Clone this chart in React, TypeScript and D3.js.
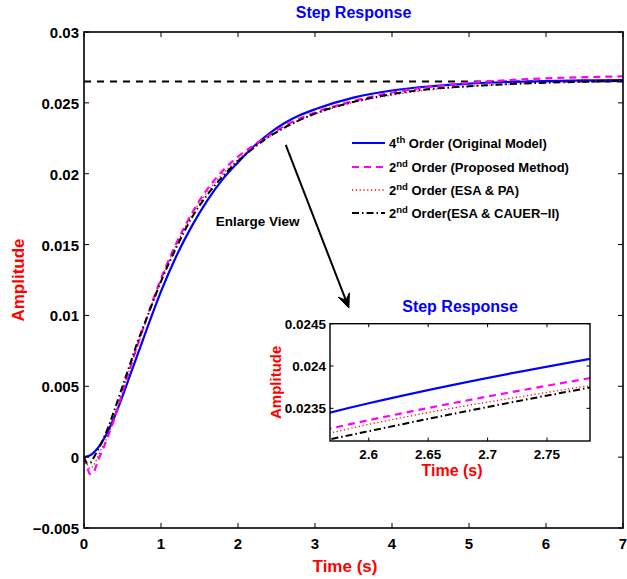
import React from "react";
import * as d3 from "d3";

// ---------- DATA ----------
const xTicks = [0, 1, 2, 3, 4, 5, 6, 7];
const xTickLabels = ["0", "1", "2", "3", "4", "5", "6", "7"];
const yTicks = [-0.005, 0, 0.005, 0.01, 0.015, 0.02, 0.025, 0.03];
const yTickLabels = ["\u22120.005", "0", "0.005", "0.01", "0.015", "0.02", "0.025", "0.03"];

const insetXTicks = [2.6, 2.65, 2.7, 2.75];
const insetXTickLabels = ["2.6", "2.65", "2.7", "2.75"];
const insetYTicks = [0.0235, 0.024, 0.0245];
const insetYTickLabels = ["0.0235", "0.024", "0.0245"];

const referenceLevel = 0.0265;

// 4th order (original model)
const tBlue = [0, 0.1, 0.2, 0.3, 0.4, 0.5, 0.6, 0.7, 0.8, 1.0, 1.2, 1.4, 1.6, 1.8, 2.0, 2.2, 2.4, 2.6, 2.8, 3.0, 3.5, 4.0, 4.5, 5.0, 5.5, 6.0, 6.5, 7.0];
const yBlue = [0, 0.0002, 0.0008, 0.0017, 0.0029, 0.0043, 0.0058, 0.0073, 0.0088, 0.0117, 0.0142, 0.0163, 0.0181, 0.0196, 0.0208, 0.0219, 0.02281, 0.02356, 0.02412, 0.02455, 0.02537, 0.02587, 0.02617, 0.02636, 0.02647, 0.02654, 0.02658, 0.0266];

// 2nd order (proposed method)
const tMagenta = [0, 0.04, 0.08, 0.12, 0.16, 0.2, 0.25, 0.3, 0.4, 0.5, 0.6, 0.7, 0.8, 1.0, 1.2, 1.4, 1.6, 1.8, 2.0, 2.2, 2.4, 2.6, 2.8, 3.0, 3.5, 4.0, 4.5, 5.0, 5.5, 6.0, 6.5, 7.0];
const yMagenta = [0, -0.0007, -0.0012, -0.0011, -0.0006, 0.0, 0.0006, 0.0013, 0.0028, 0.0046, 0.0063, 0.008, 0.0096, 0.0126, 0.0151, 0.0172, 0.0189, 0.0202, 0.0212, 0.022, 0.0227, 0.02336, 0.02389, 0.02432, 0.02513, 0.02573, 0.02613, 0.02641, 0.0266, 0.02673, 0.02681, 0.02687];

// 2nd order (ESA & PA)
const tRed = [0, 0.04, 0.08, 0.12, 0.16, 0.2, 0.3, 0.4, 0.5, 0.6, 0.7, 0.8, 1.0, 1.2, 1.4, 1.6, 1.8, 2.0, 2.2, 2.4, 2.6, 2.8, 3.0, 3.5, 4.0, 4.5, 5.0, 5.5, 6.0, 6.5, 7.0];
const yRed = [0, -0.0005, -0.0008, -0.0006, -0.0002, 0.0003, 0.0014, 0.0029, 0.0046, 0.0063, 0.0079, 0.0095, 0.0125, 0.015, 0.0171, 0.0187, 0.02, 0.021, 0.0219, 0.0226, 0.02331, 0.0238, 0.02421, 0.02502, 0.02555, 0.02592, 0.02616, 0.02632, 0.02643, 0.0265, 0.02655];

// 2nd order (ESA & CAUER-II)
const tBlack = [0, 0.04, 0.08, 0.12, 0.16, 0.2, 0.3, 0.4, 0.5, 0.6, 0.7, 0.8, 1.0, 1.2, 1.4, 1.6, 1.8, 2.0, 2.2, 2.4, 2.6, 2.8, 3.0, 3.5, 4.0, 4.5, 5.0, 5.5, 6.0, 6.5, 7.0];
const yBlack = [0, -0.0004, -0.0004, -0.0001, 0.0003, 0.0007, 0.0019, 0.0034, 0.005, 0.0066, 0.0082, 0.0096, 0.0124, 0.0148, 0.0169, 0.0185, 0.0198, 0.0209, 0.0218, 0.0226, 0.02323, 0.02378, 0.02424, 0.02507, 0.02562, 0.02598, 0.02617, 0.02632, 0.02642, 0.02649, 0.02655];

const legendNum = ["4", "2", "2", "2"];
const legendSup = ["th", "nd", "nd", "nd"];
const legendRest = [" Order (Original Model)", " Order (Proposed Method)", " Order (ESA & PA)", " Order(ESA & CAUER\u2212II)"];

// arrow endpoints (data coords) and annotation
const arrowFrom = [2.62, 0.02203];
const arrowTo = [3.44, 0.01052];
const annotation = "Enlarge View";
const annotationPos = [1.71, 0.01631];

// ---------- STYLE ----------
const FONT = "'Liberation Sans', Arial, Helvetica, sans-serif";
const styles = [
  { color: "#0000ff", width: 2.2, dash: "none" },
  { color: "#ff00ff", width: 2.2, dash: "7,5" },
  { color: "#ff0000", width: 1.3, dash: "1.2,2.6" },
  { color: "#000000", width: 2.0, dash: "7,3,1.5,3" },
];

export default function App() {
  const W = 627, H = 579;
  const m = { left: 84, right: 623, top: 32, bottom: 528 };
  const x = d3.scaleLinear().domain([0, 7]).range([m.left, m.right]);
  const y = d3.scaleLinear().domain([-0.005, 0.03]).range([m.bottom, m.top]);

  const ins = { left: 330, right: 590, top: 323.7, bottom: 441 };
  const xi = d3.scaleLinear().domain([2.5674, 2.7862]).range([ins.left, ins.right]);
  const yi = d3.scaleLinear().domain([0.023114, 0.0245]).range([ins.bottom, ins.top]);

  const series = [
    { t: tBlue, v: yBlue },
    { t: tMagenta, v: yMagenta },
    { t: tRed, v: yRed },
    { t: tBlack, v: yBlack },
  ];

  const mkLine = (sx: any, sy: any) =>
    d3.line<[number, number]>().x((d) => sx(d[0])).y((d) => sy(d[1])).curve(d3.curveMonotoneX);
  const mainLine = mkLine(x, y);
  const insetLine = mkLine(xi, yi);
  const pts = (s: { t: number[]; v: number[] }) => s.t.map((t, i) => [t, s.v[i]] as [number, number]);

  const tick = 5;
  const itick = 3.5;

  // arrow
  const ax1 = x(arrowFrom[0]), ay1 = y(arrowFrom[1]);
  const ax2 = x(arrowTo[0]), ay2 = y(arrowTo[1]);
  const ang = Math.atan2(ay2 - ay1, ax2 - ax1);
  const hl = 14, hw = 6;
  const bx = ax2 - hl * Math.cos(ang), by = ay2 - hl * Math.sin(ang);
  const nx = -Math.sin(ang), ny = Math.cos(ang);
  const innerX = ax2 - hl * 0.6 * Math.cos(ang), innerY = ay2 - hl * 0.6 * Math.sin(ang);
  const headPath = `M${ax2},${ay2} L${bx + nx * hw},${by + ny * hw} L${innerX},${innerY} L${bx - nx * hw},${by - ny * hw} Z`;

  const legX1 = 352, legX2 = 385, legTextX = 389;
  const legRows = [143, 167, 190, 213];

  return (
    <svg width={W} height={H} style={{ position: "absolute", left: 0, top: 0, display: "block", background: "#fff" }} fontFamily={FONT} fontWeight="bold">
      <defs>
        <clipPath id="mainClip">
          <rect x={m.left} y={m.top} width={m.right - m.left} height={m.bottom - m.top} />
        </clipPath>
        <clipPath id="insClip">
          <rect x={ins.left} y={ins.top} width={ins.right - ins.left} height={ins.bottom - ins.top} />
        </clipPath>
      </defs>
      <rect x={0} y={0} width={W} height={H} fill="#fff" />

      {/* main title */}
      <text x={(m.left + m.right) / 2} y={18} textAnchor="middle" fill="#0000ff" fontSize={16}>Step Response</text>

      {/* main curves */}
      <g clipPath="url(#mainClip)">
        <line x1={x(0)} x2={x(7)} y1={y(referenceLevel)} y2={y(referenceLevel)} stroke="#000" strokeWidth={2} strokeDasharray="7,6" />
        {series.map((s, i) => (
          <path key={i} d={mainLine(pts(s)) || ""} fill="none" stroke={styles[i].color} strokeWidth={styles[i].width} strokeDasharray={styles[i].dash} />
        ))}
      </g>

      {/* main frame and ticks */}
      <rect x={m.left} y={m.top} width={m.right - m.left} height={m.bottom - m.top} fill="none" stroke="#000" strokeWidth={1.6} />
      {xTicks.map((t, i) => (
        <g key={"xt" + i}>
          <line x1={x(t)} x2={x(t)} y1={m.bottom} y2={m.bottom - tick} stroke="#000" strokeWidth={1} />
          <line x1={x(t)} x2={x(t)} y1={m.top} y2={m.top + tick} stroke="#000" strokeWidth={1} />
          <text x={x(t)} y={m.bottom + 21} textAnchor="middle" fontSize={15} fill="#000">{xTickLabels[i]}</text>
        </g>
      ))}
      {yTicks.map((t, i) => (
        <g key={"yt" + i}>
          <line x1={m.left} x2={m.left + tick} y1={y(t)} y2={y(t)} stroke="#000" strokeWidth={1} />
          <line x1={m.right} x2={m.right - tick} y1={y(t)} y2={y(t)} stroke="#000" strokeWidth={1} />
          <text x={m.left - 5} y={y(t) + 6} textAnchor="end" fontSize={15} fill="#000">{yTickLabels[i]}</text>
        </g>
      ))}
      <text x={345} y={572} textAnchor="middle" fill="#ff0000" fontSize={17}>Time (s)</text>
      <text transform={`translate(24,${(m.top + m.bottom) / 2}) rotate(-90)`} textAnchor="middle" fill="#ff0000" fontSize={17}>Amplitude</text>

      {/* legend */}
      {legRows.map((ry, i) => (
        <g key={"lg" + i}>
          <line x1={legX1} x2={legX2} y1={ry} y2={ry} stroke={styles[i].color} strokeWidth={styles[i].width} strokeDasharray={styles[i].dash} />
          <text x={legTextX} y={ry + 5} fontSize={13} fill="#000">
            <tspan>{legendNum[i]}</tspan>
            <tspan dy={-5} fontSize={9.5}>{legendSup[i]}</tspan>
            <tspan dy={5}>{legendRest[i]}</tspan>
          </text>
        </g>
      ))}

      {/* annotation & arrow */}
      <text x={x(annotationPos[0])} y={y(annotationPos[1])} fontSize={13.5} fill="#000">{annotation}</text>
      <line x1={ax1} y1={ay1} x2={innerX} y2={innerY} stroke="#000" strokeWidth={2} />
      <path d={headPath} fill="#000" stroke="#000" strokeWidth={1} />

      {/* inset */}
      <rect x={ins.left} y={ins.top} width={ins.right - ins.left} height={ins.bottom - ins.top} fill="#fff" />
      <g clipPath="url(#insClip)">
        {series.map((s, i) => (
          <path key={i} d={insetLine(pts(s)) || ""} fill="none" stroke={styles[i].color} strokeWidth={styles[i].width} strokeDasharray={styles[i].dash} />
        ))}
      </g>
      <rect x={ins.left} y={ins.top} width={ins.right - ins.left} height={ins.bottom - ins.top} fill="none" stroke="#000" strokeWidth={1.4} />
      {insetXTicks.map((t, i) => (
        <g key={"ixt" + i}>
          <line x1={xi(t)} x2={xi(t)} y1={ins.bottom} y2={ins.bottom - itick} stroke="#000" strokeWidth={1} />
          <line x1={xi(t)} x2={xi(t)} y1={ins.top} y2={ins.top + itick} stroke="#000" strokeWidth={1} />
          <text x={xi(t)} y={ins.bottom + 18} textAnchor="middle" fontSize={13.5} fill="#000">{insetXTickLabels[i]}</text>
        </g>
      ))}
      {insetYTicks.map((t, i) => (
        <g key={"iyt" + i}>
          <line x1={ins.left} x2={ins.left + itick} y1={yi(t)} y2={yi(t)} stroke="#000" strokeWidth={1} />
          <line x1={ins.right} x2={ins.right - itick} y1={yi(t)} y2={yi(t)} stroke="#000" strokeWidth={1} />
          <text x={ins.left - 4} y={yi(t) + 5} textAnchor="end" fontSize={13.5} fill="#000">{insetYTickLabels[i]}</text>
        </g>
      ))}
      <text x={(ins.left + ins.right) / 2} y={312} textAnchor="middle" fill="#0000ff" fontSize={16}>Step Response</text>
      <text x={452} y={476} textAnchor="middle" fill="#ff0000" fontSize={16}>Time (s)</text>
      <text transform={`translate(281,${(ins.top + ins.bottom) / 2}) rotate(-90)`} textAnchor="middle" fill="#ff0000" fontSize={15}>Amplitude</text>
    </svg>
  );
}
